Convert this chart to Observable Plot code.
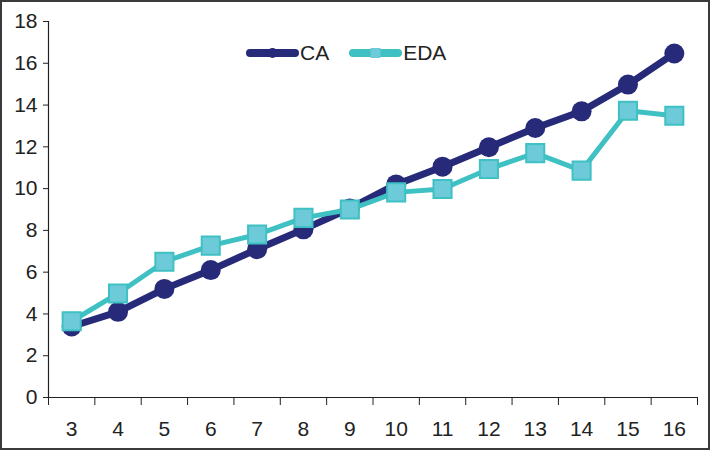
<!DOCTYPE html>
<html>
<head>
<meta charset="utf-8">
<script src="https://cdn.jsdelivr.net/npm/d3@7"></script>
<script src="https://cdn.jsdelivr.net/npm/@observablehq/plot@0.6"></script>
<style>
  html, body { margin: 0; padding: 0; background: #fff; }
  #wrap { position: relative; width: 710px; height: 450px; font-family: "Liberation Sans", Arial, sans-serif; }
  #frame { position: absolute; left: 0; top: 0; width: 710px; height: 450px; box-sizing: border-box; border: 2px solid #3a3a3a; pointer-events: none; }
  #chart { position: absolute; left: 0; top: 0; }
  #legend { position: absolute; left: 242px; top: 41px; display: flex; align-items: center; font-size: 21px; color: #222; }
  #legend .item { display: flex; align-items: center; }
  #legend svg { display: block; }
</style>
</head>
<body>
<div id="wrap">
  <div id="chart"></div>
  <div id="legend"></div>
  <div id="frame"></div>
</div>
<script>
const categories = [3, 4, 5, 6, 7, 8, 9, 10, 11, 12, 13, 14, 15, 16];
const caValues  = [3.4, 4.1, 5.2, 6.1, 7.1, 8.05, 9.05, 10.2, 11.05, 11.98, 12.9, 13.7, 14.98, 16.47];
const edaValues = [3.65, 4.98, 6.5, 7.27, 7.8, 8.6, 9.0, 9.82, 9.98, 10.94, 11.7, 10.86, 13.73, 13.49];
const yTicks = [0, 2, 4, 6, 8, 10, 12, 14, 16, 18];
const seriesNames = ["CA", "EDA"];

const caColor = "#262a78";
const edaLine = "#3fc0c3";
const edaFill = "#6dcbd9";

const ca = categories.map((c, i) => ({x: c, y: caValues[i]}));
const eda = categories.map((c, i) => ({x: c, y: edaValues[i]}));
const bounds = [categories[0] - 0.5, ...categories.map(c => c + 0.5)];

const chart = Plot.plot({
  width: 710,
  height: 450,
  marginLeft: 48,
  marginRight: 13,
  marginTop: 21,
  marginBottom: 53,
  style: {fontFamily: "'Liberation Sans', Arial, sans-serif", color: "#222", background: "transparent"},
  x: {domain: [bounds[0], bounds[bounds.length - 1]]},
  y: {domain: [0, 18]},
  marks: [
    Plot.axisY({ticks: yTicks, tickSize: 5, tickPadding: 6, fontSize: 21, label: null, stroke: "#222"}),
    Plot.axisX({ticks: bounds, tickSize: 8, tickFormat: () => "", label: null, stroke: "#222"}),
    Plot.axisX({ticks: categories, tickSize: 0, tickPadding: 24, fontSize: 21, label: null, tickFormat: d => String(d)}),
    Plot.ruleY([0], {stroke: "#222", strokeWidth: 1.2}),
    Plot.ruleX([bounds[0]], {y1: 0, y2: 18, stroke: "#222", strokeWidth: 1.2}),
    Plot.line(ca, {x: "x", y: "y", stroke: caColor, strokeWidth: 7}),
    Plot.dot(ca, {x: "x", y: "y", r: 10, fill: caColor, stroke: "none"}),
    Plot.line(eda, {x: "x", y: "y", stroke: edaLine, strokeWidth: 5}),
    Plot.dot(eda, {x: "x", y: "y", symbol: "square", r: 10.2, fill: edaFill, stroke: edaLine, strokeWidth: 2})
  ]
});
document.getElementById("chart").appendChild(chart);

// Legend
const legend = document.getElementById("legend");
const ns = "http://www.w3.org/2000/svg";
function makeItem(name, color, marker) {
  const item = document.createElement("div");
  item.className = "item";
  const svg = document.createElementNS(ns, "svg");
  svg.setAttribute("width", 58);
  svg.setAttribute("height", 20);
  const line = document.createElementNS(ns, "line");
  line.setAttribute("x1", 8); line.setAttribute("x2", 53);
  line.setAttribute("y1", 10); line.setAttribute("y2", 10);
  line.setAttribute("stroke", color);
  line.setAttribute("stroke-width", 8);
  line.setAttribute("stroke-linecap", "round");
  svg.appendChild(line);
  if (marker === "circle") {
    const c = document.createElementNS(ns, "circle");
    c.setAttribute("cx", 30.5); c.setAttribute("cy", 10); c.setAttribute("r", 5);
    c.setAttribute("fill", color);
    svg.appendChild(c);
  } else {
    const r = document.createElementNS(ns, "rect");
    r.setAttribute("x", 25.5); r.setAttribute("y", 5); r.setAttribute("width", 10); r.setAttribute("height", 10);
    r.setAttribute("fill", edaFill);
    svg.appendChild(r);
  }
  item.appendChild(svg);
  const t = document.createElement("span");
  t.textContent = name;
  item.appendChild(t);
  return item;
}
legend.appendChild(makeItem(seriesNames[0], caColor, "circle"));
const second = makeItem(seriesNames[1], edaLine, "square");
second.style.marginLeft = "16px";
legend.appendChild(second);
</script>
</body>
</html>
